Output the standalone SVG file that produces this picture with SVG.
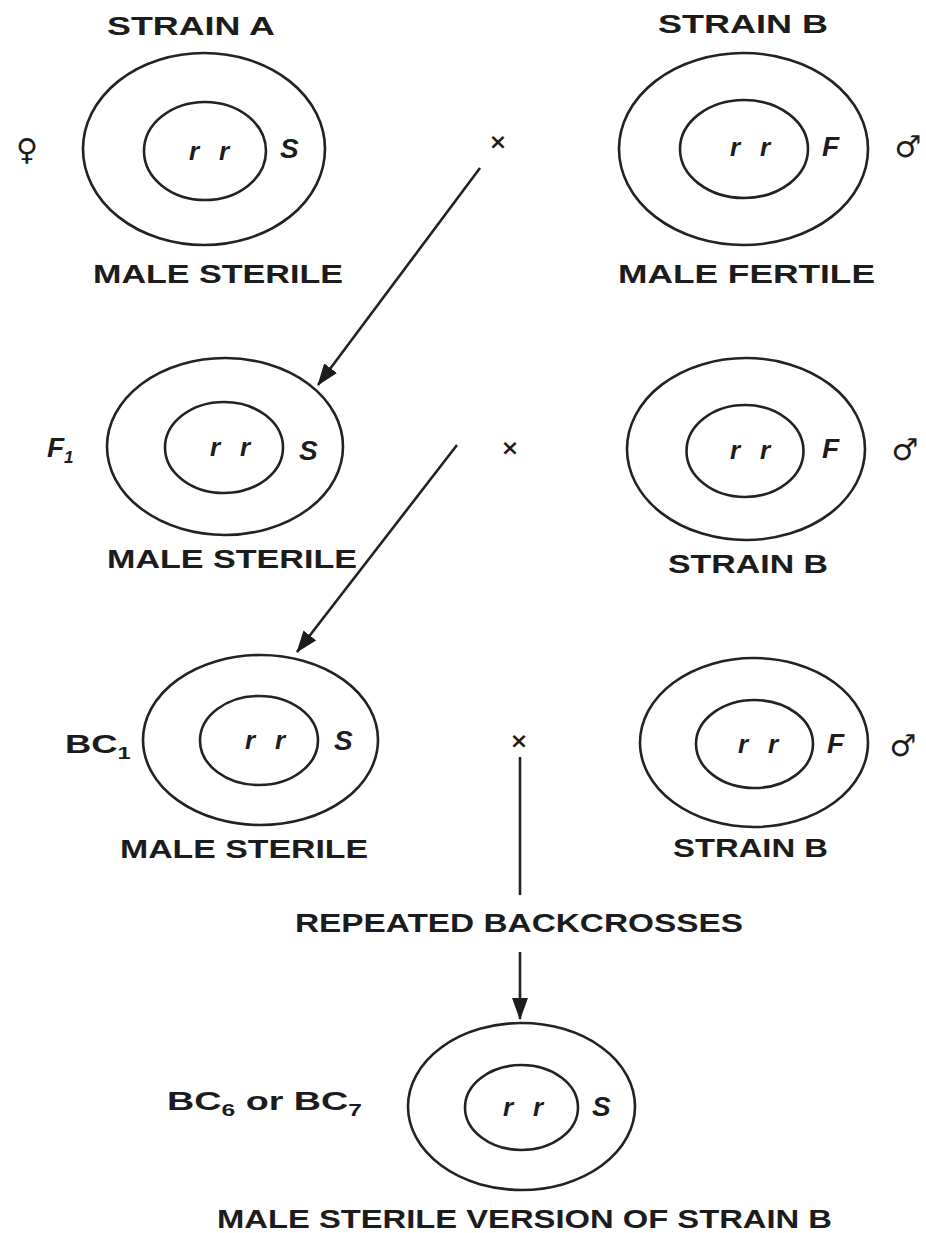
<svg xmlns="http://www.w3.org/2000/svg" width="926" height="1233" viewBox="0 0 926 1233">
<defs>
<style>
.ring{fill:none;stroke:#222;stroke-width:2.6}
.lbl{font-family:"Liberation Sans",Arial,sans-serif;font-weight:bold;font-size:26px;fill:#1c1c1c}
.gen{font-family:"Liberation Sans",Arial,sans-serif;font-weight:bold;font-style:italic;font-size:26px;fill:#1c1c1c}
.al{font-family:"Liberation Sans",Arial,sans-serif;font-weight:bold;font-style:italic;font-size:28px;fill:#1c1c1c}
.sym{font-family:"DejaVu Sans",sans-serif;font-size:30px;fill:#1c1c1c}
.cross{font-family:"DejaVu Sans",sans-serif;font-weight:bold;font-size:22px;fill:#1c1c1c}
.conn{fill:none;stroke:#222;stroke-width:2.6}
</style>
<marker id="ah" viewBox="0 0 22 16" refX="21" refY="8" markerWidth="22" markerHeight="16" markerUnits="userSpaceOnUse" orient="auto">
<path d="M0,0 L22,8 L0,16 z" fill="#1c1c1c"/>
</marker>
</defs>
<rect width="926" height="1233" fill="#fff"/>

<g id="node-strainA">
<text class="lbl" x="107" y="35" textLength="168" lengthAdjust="spacingAndGlyphs">STRAIN A</text>
<ellipse class="ring" cx="204" cy="149" rx="121" ry="96"/>
<ellipse class="ring" cx="205" cy="151" rx="61" ry="49"/>
<text class="gen" x="189" y="160" textLength="40" lengthAdjust="spacing">r r</text>
<text class="al" x="280" y="158">S</text>
<text class="sym" x="27" y="160" text-anchor="middle">♀</text>
<text class="lbl" x="93" y="283" textLength="250" lengthAdjust="spacingAndGlyphs">MALE STERILE</text>
</g>

<g id="node-strainB1">
<text class="lbl" x="658" y="33" textLength="170" lengthAdjust="spacingAndGlyphs">STRAIN B</text>
<ellipse class="ring" cx="743.5" cy="149" rx="124.5" ry="96"/>
<ellipse class="ring" cx="744" cy="149" rx="64" ry="49"/>
<text class="gen" x="730" y="156" textLength="40" lengthAdjust="spacing">r r</text>
<text class="al" x="822" y="156">F</text>
<text class="sym" x="908" y="157" text-anchor="middle">♂</text>
<text class="lbl" x="618" y="283" textLength="257" lengthAdjust="spacingAndGlyphs">MALE FERTILE</text>
</g>

<g id="cross-1"><text class="cross" x="498" y="149" text-anchor="middle">×</text></g>

<g id="node-F1">
<ellipse class="ring" cx="225" cy="446.5" rx="118" ry="88.5"/>
<ellipse class="ring" cx="224" cy="447.5" rx="59" ry="45.5"/>
<text class="gen" x="210" y="456" textLength="40" lengthAdjust="spacing">r r</text>
<text class="al" x="299" y="460">S</text>
<text class="al" x="47" y="457">F<tspan font-size="17" dy="6">1</tspan></text>
<text class="lbl" x="107" y="568" textLength="250" lengthAdjust="spacingAndGlyphs">MALE STERILE</text>
</g>

<g id="cross-2"><text class="cross" x="510" y="455" text-anchor="middle">×</text></g>

<g id="node-strainB2">
<ellipse class="ring" cx="746" cy="449" rx="119" ry="91"/>
<ellipse class="ring" cx="745" cy="451" rx="58.5" ry="46"/>
<text class="gen" x="730" y="459" textLength="40" lengthAdjust="spacing">r r</text>
<text class="al" x="822" y="458">F</text>
<text class="sym" x="905" y="460" text-anchor="middle">♂</text>
<text class="lbl" x="668" y="573" textLength="160" lengthAdjust="spacingAndGlyphs">STRAIN B</text>
</g>

<g id="node-BC1">
<ellipse class="ring" cx="260.5" cy="740" rx="117.5" ry="85"/>
<ellipse class="ring" cx="259" cy="740.5" rx="59" ry="44.5"/>
<text class="gen" x="245" y="749" textLength="40" lengthAdjust="spacing">r r</text>
<text class="al" x="334" y="750">S</text>
<text class="lbl" transform="translate(65,753) scale(1.4,1)">BC<tspan font-size="17" dy="6">1</tspan></text>
<text class="lbl" x="120" y="858" textLength="248" lengthAdjust="spacingAndGlyphs">MALE STERILE</text>
</g>

<g id="cross-3"><text class="cross" x="519" y="748" text-anchor="middle">×</text></g>

<g id="node-strainB3">
<ellipse class="ring" cx="754" cy="742.5" rx="114" ry="84.5"/>
<ellipse class="ring" cx="754.5" cy="744" rx="58.5" ry="44"/>
<text class="gen" x="738" y="753" textLength="40" lengthAdjust="spacing">r r</text>
<text class="al" x="827" y="753">F</text>
<text class="sym" x="903" y="756" text-anchor="middle">♂</text>
<text class="lbl" x="673" y="857" textLength="155" lengthAdjust="spacingAndGlyphs">STRAIN B</text>
</g>

<g id="label-repeated">
<text class="lbl" x="295" y="932" textLength="448" lengthAdjust="spacingAndGlyphs">REPEATED BACKCROSSES</text>
</g>

<g id="node-final">
<ellipse class="ring" cx="521.5" cy="1106.5" rx="113.5" ry="83.5"/>
<ellipse class="ring" cx="521.5" cy="1107.5" rx="56.5" ry="42.5"/>
<text class="gen" x="503" y="1116" textLength="40" lengthAdjust="spacing">r r</text>
<text class="al" x="592" y="1116">S</text>
<text class="lbl" transform="translate(167,1110) scale(1.45,1)">BC<tspan font-size="17" dy="6">6</tspan><tspan dy="-6"> or BC</tspan><tspan font-size="17" dy="6">7</tspan></text>
<text class="lbl" x="217" y="1228" textLength="615" lengthAdjust="spacingAndGlyphs">MALE STERILE VERSION OF STRAIN B</text>
</g>

<g id="connectors">
<line class="conn" x1="480" y1="168" x2="318" y2="385" marker-end="url(#ah)"/>
<line class="conn" x1="457" y1="445" x2="297" y2="652" marker-end="url(#ah)"/>
<line class="conn" x1="520" y1="757" x2="520" y2="895"/>
<line class="conn" x1="520" y1="952" x2="520" y2="1019" marker-end="url(#ah)"/>
</g>
</svg>
